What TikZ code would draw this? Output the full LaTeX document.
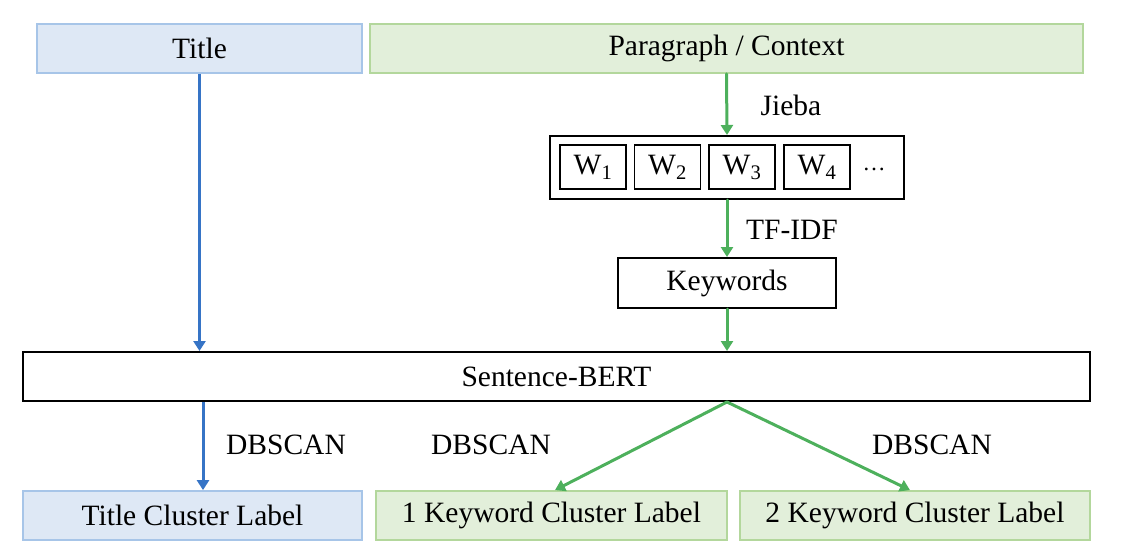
\documentclass[tikz,border=0pt]{standalone}
\usepackage{fontspec}
\setmainfont{Liberation Serif}
\usetikzlibrary{arrows.meta}
\definecolor{bfill}{HTML}{DEE8F5}
\definecolor{bline}{HTML}{A7C5E8}
\definecolor{gfill}{HTML}{E2EFDA}
\definecolor{gline}{HTML}{B3D79C}
\definecolor{barrow}{HTML}{3674C6}
\definecolor{garrow}{HTML}{4DB05C}
\begin{document}
\begin{tikzpicture}[x=1pt,y=-1pt,
  font=\fontsize{29.5}{34}\selectfont,
  bluebox/.style={draw=bline, fill=bfill, line width=1.8pt, minimum height=49pt, inner sep=0pt},
  greenbox/.style={draw=gline, fill=gfill, line width=1.8pt, minimum height=49pt, inner sep=0pt},
  blackbox/.style={draw=black, fill=white, line width=2pt, minimum height=49pt, inner sep=0pt},
  wbox/.style={draw=black, line width=1.6pt, minimum width=66pt, minimum height=44pt, inner sep=0pt},
  lbl/.style={inner sep=0pt},
  barr/.style={draw=barrow, line width=3pt, -{Triangle[length=10pt,width=12pt]}},
  garr/.style={draw=garrow, line width=3pt, line cap=round, -{Triangle[length=10pt,width=12pt]}}]
\useasboundingbox (0,0) rectangle (1122,558);

\node[bluebox, minimum width=325pt] (title) at (199.5,48.5) {Title};
\node[greenbox, minimum width=713pt] (para) at (726.5,48.5) {Paragraph / Context};

\node[blackbox, minimum width=354pt, minimum height=63pt] (words) at (727,167.5) {};
\node[wbox] (w1) at (593,167) {W\textsubscript{1}};
\node[wbox] (w2) at (667.5,167) {W\textsubscript{2}};
\node[wbox] (w3) at (742,167) {W\textsubscript{3}};
\node[wbox] (w4) at (817,167) {W\textsubscript{4}};
\node[lbl, anchor=base] (dots) at (874,170) {\fontsize{23}{25}\selectfont …};

\node[blackbox, minimum width=218pt, minimum height=50pt] (kw) at (727,283) {Keywords};
\node[blackbox, minimum width=1067pt] (sb) at (556.5,376.5) {Sentence-BERT};

\node[bluebox, minimum width=339pt] (tcl) at (192.5,515.5) {Title Cluster Label};
\node[greenbox, minimum width=351pt] (k1) at (551.5,515.5) {1 Keyword Cluster Label};
\node[greenbox, minimum width=350pt] (k2) at (915,515.5) {2 Keyword Cluster Label};

\node[lbl] (jieba) at (791,105) {Jieba};
\node[lbl] (tfidf) at (792,230) {TF-IDF};
\node[lbl] (db1) at (286,445) {DBSCAN};
\node[lbl] (db2) at (491,445) {DBSCAN};
\node[lbl] (db3) at (932,445) {DBSCAN};

\draw[barr] (title.south) -- (title.south |- sb.north);
\coordinate (bt) at ([xshift=10.5pt]tcl.north);
\draw[barr] (bt |- sb.south) -- (bt);

\draw[garr] (para.south) -- (words.north);
\draw[garr] (words.south) -- (kw.north);
\draw[garr] (kw.south) -- (kw.south |- sb.north);
\coordinate (apex) at (kw.south |- sb.south);
\draw[garr] (apex) -- ([xshift=3.5pt]k1.north);
\draw[garr] (apex) -- ([xshift=-5pt]k2.north);
\end{tikzpicture}
\end{document}
